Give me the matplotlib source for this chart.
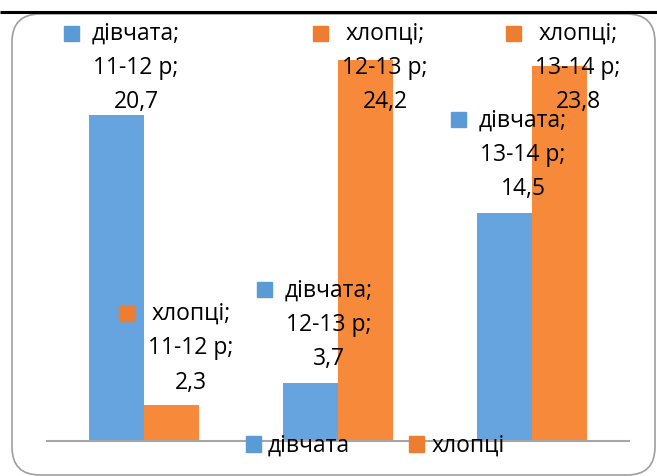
import matplotlib

matplotlib.use("Agg")

import matplotlib.pyplot as plt
import matplotlib.transforms as mtransforms
import numpy as np
from matplotlib.patches import FancyBboxPatch, Patch

plt.rcParams["font.family"] = ["Open Sans", "DejaVu Sans"]

# age groups and values per series
groups = ["11-12 р", "12-13 р", "13-14 р"]
series = ["дівчата", "хлопці"]
girls = [20.7, 3.7, 14.5]
boys = [2.3, 24.2, 23.8]

# where each data label block sits (data coords), order: girls then boys per group
girls_label_pos = [(-0.041, 23.68), (0.954, 7.37), (1.954, 18.16)]
boys_label_pos = [(0.242, 5.90), (1.242, 23.68), (2.237, 23.68)]

BLUE = "#66A4DF"
ORANGE = "#F68A3A"
KEY_BLUE = "#5B9BD5"
KEY_ORANGE = "#ED7D31"
FS = 16.5

W, H = 657, 476
fig = plt.figure(figsize=(W / 100, H / 100), dpi=100, facecolor="white")

# background layer in pixel units: rounded chart frame and the rule above it
bg = fig.add_axes([0, 0, 1, 1])
bg.set_xlim(0, W)
bg.set_ylim(H, 0)
bg.set_axis_off()
bg.add_patch(
    FancyBboxPatch(
        (12, 14), 643, 461,
        boxstyle="round,pad=0,rounding_size=28",
        fc="white", ec="#9E9E9E", lw=1.2,
    )
)
bg.plot([0, W], [12, 12], color="black", lw=2.2, solid_capstyle="butt")

ax = fig.add_axes([47 / W, 35 / H, 582 / W, 421 / H])
ax.patch.set_alpha(0)
x = np.arange(len(groups))
w = 0.284
ax.bar(x - w / 2, girls, w, color=BLUE, zorder=2)
ax.bar(x + w / 2, boys, w, color=ORANGE, zorder=2)
ax.set_xlim(-0.5, len(groups) - 0.5)
ax.set_ylim(0, 26.73)
for side in ["left", "right", "top"]:
    ax.spines[side].set_visible(False)
ax.spines["bottom"].set_color("#A6A6A6")
ax.spines["bottom"].set_linewidth(1.5)
ax.set_xticks([])
ax.set_yticks([])

key_tr = mtransforms.offset_copy(ax.transData, fig=fig, x=-65, y=35.5, units="dots")


def data_label(pos, name, group, value, key_color):
    txt = f"{name};\n{group};\n{value:.1f}".replace(".", ",")
    ax.text(pos[0], pos[1], txt, ha="center", va="center", fontsize=FS,
            linespacing=1.58, color="black", zorder=4)
    ax.plot(pos[0], pos[1], marker="s", markersize=10.8, color=key_color,
            transform=key_tr, zorder=4, clip_on=False)


for i, g in enumerate(groups):
    data_label(girls_label_pos[i], series[0], g, girls[i], KEY_BLUE)
    data_label(boys_label_pos[i], series[1], g, boys[i], KEY_ORANGE)

fig.legend(
    handles=[Patch(color=KEY_BLUE, label=series[0]), Patch(color=KEY_ORANGE, label=series[1])],
    loc="center",
    bbox_to_anchor=(375 / W, 30 / H),
    ncol=2,
    frameon=False,
    fontsize=FS,
    handlelength=0.66,
    handleheight=0.66,
    handletextpad=0.3,
    columnspacing=2.6,
    borderpad=0,
)

fig.savefig("out.png", dpi=100, facecolor="white")
